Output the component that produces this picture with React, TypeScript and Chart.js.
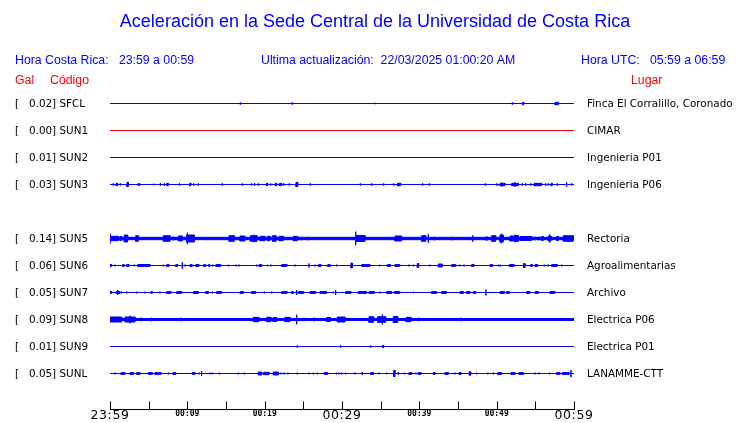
import { useEffect, useRef } from "react";
import { Chart, registerables } from "chart.js";

Chart.register(...registerables);

// ---------- texts ----------
const TITLE = "Aceleración en la Sede Central de la Universidad de Costa Rica";
const HORA_CR = "Hora Costa Rica:   23:59 a 00:59";
const UPDATED = "Ultima actualización:  22/03/2025 01:00:20 AM";
const HORA_UTC = "Hora UTC:   05:59 a 06:59";
const HEAD_GAL = "Gal";
const HEAD_CODE = "Código";
const HEAD_PLACE = "Lugar";

// ---------- stations (one empty slot between SUN3 and SUN5) ----------
const CODES = ["SFCL", "SUN1", "SUN2", "SUN3", "", "SUN5", "SUN6", "SUN7", "SUN8", "SUN9", "SUNL"];
const GAL = [0.02, 0.0, 0.01, 0.03, null, 0.14, 0.06, 0.05, 0.09, 0.01, 0.05];
const PLACES = [
  "Finca El Corralillo, Coronado",
  "CIMAR",
  "Ingenieria P01",
  "Ingenieria P06",
  "",
  "Rectoria",
  "Agroalimentarias",
  "Archivo",
  "Electrica P06",
  "Electrica P01",
  "LANAMME-CTT",
];
const TRACE_COLORS = ["#0000ff", "#ff0000", "#0000ff", "#0000ff", "", "#0000ff", "#0000ff", "#0000ff", "#0000ff", "#0000ff", "#0000ff"];
// continuous background noise half-width of each trace
const NOISE = [0, 0, 0, 0, 0, 1.2, 0, 0, 1.0, 0, 0];

// time axis: minutes after 23:59
const TIME_LABEL_MINUTES = [0, 10, 20, 30, 40, 50, 60];
const TIME_LABELS = ["23:59", "00:09", "00:19", "00:29", "00:39", "00:49", "00:59"];
const TIME_LABEL_BIG = [true, false, false, true, false, false, true];

// bursts: [start minute, end minute, half amplitude]
const SFCL: number[][] = [
  [16.85, 16.85, 1.2], [23.58, 23.58, 1.2], [34.31, 34.31, 0.7], [52.03, 52.03, 1.2],
  [53.36, 53.5, 1.2], [57.54, 57.97, 1.2],
];
const SUN1: number[][] = [];
const SUN2: number[][] = [];
const SUN3: number[][] = [
  [0.43, 0.43, 1.2], [0.78, 0.99, 1.2], [1.34, 1.34, 1.2], [2.2, 2.37, 2.2], [3.66, 3.66, 1.2],
  [3.84, 3.84, 1.2], [5.65, 5.65, 0.8], [6.51, 6.51, 1.2], [7.03, 7.03, 1.2], [7.33, 7.54, 1.2],
  [8.97, 8.97, 1.2], [10.3, 10.47, 1.2], [10.82, 10.82, 1.2], [11.42, 11.42, 1.2], [14.53, 14.53, 1.2],
  [17.11, 17.11, 1.2], [18.32, 18.32, 1.2], [18.71, 18.71, 1.2], [19.18, 19.18, 1.2], [20.22, 20.39, 1.2],
  [20.78, 20.78, 1.2], [21.38, 21.55, 1.2], [21.9, 22.2, 1.2], [22.46, 22.46, 1.2], [23.19, 23.19, 1.2],
  [24.05, 24.27, 2.2], [25.91, 25.91, 1.2], [32.37, 32.37, 1.2], [33.84, 33.84, 1.2], [35.39, 35.39, 1.2],
  [36.68, 36.68, 1.2], [37.16, 37.59, 1.2], [40.43, 40.43, 1.2], [41.29, 41.29, 1.2], [48.53, 48.53, 1.2],
  [50.04, 50.04, 1.2], [50.43, 51.08, 1.2], [50.65, 50.65, 2.0], [51.94, 52.8, 1.2], [52.37, 52.37, 2.2],
  [53.32, 53.32, 1.2], [53.75, 53.75, 1.2], [54.4, 54.4, 1.2], [54.83, 55.82, 1.2], [56.34, 56.34, 1.2],
  [56.68, 56.68, 1.2], [57.03, 57.2, 1.2], [57.84, 57.84, 1.2], [59.05, 59.05, 2.2], [59.7, 59.7, 1.2],
];
const SUN5: number[][] = [
  [0, 0.05, 4.8], [0.13, 1.08, 2.2], [1.29, 1.51, 2.0], [1.85, 2.28, 3.5], [3.32, 3.66, 2.8],
  [6.9, 7.76, 2.8], [8.19, 8.19, 2.0], [8.84, 9.35, 2.5], [9.91, 10.91, 3.5], [10.0, 10.0, 5.8],
  [15.39, 16.08, 2.8], [16.81, 17.44, 2.5], [18.15, 19.01, 2.8], [18.62, 18.62, 3.8], [19.4, 20.04, 2.2],
  [20.34, 20.69, 2.2], [21.03, 21.47, 2.8], [21.2, 21.2, 3.5], [21.85, 22.41, 2.2], [23.71, 24.27, 2.2],
  [24.78, 24.78, 1.8], [25.56, 25.56, 1.8], [29.83, 29.83, 1.5], [31.77, 31.77, 6.8], [31.77, 32.97, 3.0],
  [34.27, 34.27, 1.5], [36.85, 37.72, 2.5], [39.35, 39.35, 1.5], [40.3, 40.82, 2.8], [41.16, 41.16, 4.2],
  [41.94, 41.94, 1.8], [43.23, 43.23, 1.5], [44.18, 44.18, 1.8], [46.9, 46.9, 3.2], [48.71, 48.71, 2.5],
  [49.35, 49.87, 2.8], [50.43, 50.86, 3.5], [50.6, 50.6, 4.8], [51.72, 52.16, 2.5], [52.28, 52.8, 3.0],
  [52.4, 52.4, 3.8], [53.02, 54.53, 2.0], [54.96, 54.96, 1.8], [55.47, 55.47, 1.8], [55.82, 56.03, 2.0],
  [56.68, 57.03, 2.5], [56.85, 56.85, 4.0], [57.76, 57.97, 2.0], [58.62, 59.91, 2.8], [59.3, 59.3, 3.2],
];
const SUN6: number[][] = [
  [0, 0.22, 0.9], [0.65, 0.65, 0.9], [1.64, 1.85, 0.9], [2.16, 2.46, 0.9], [3.15, 3.15, 0.9],
  [3.58, 5.17, 1.0], [6.9, 6.9, 0.9], [7.33, 7.63, 0.9], [8.49, 8.75, 0.9], [9.35, 9.35, 3.2],
  [9.7, 9.7, 0.9], [10.34, 10.56, 0.9], [10.73, 10.73, 0.9], [11.08, 11.51, 0.9], [12.11, 12.37, 0.9],
  [12.72, 12.89, 0.9], [13.28, 13.28, 0.9], [13.71, 14.31, 1.0], [15.3, 15.3, 0.9], [16.29, 16.29, 0.9],
  [16.68, 16.68, 0.9], [18.97, 18.97, 0.9], [19.27, 19.61, 0.9], [20.39, 20.39, 0.9], [20.82, 20.82, 0.9],
  [22.2, 22.89, 0.9], [23.92, 23.92, 0.9], [25.73, 25.73, 2.0], [26.51, 26.51, 0.9], [26.94, 27.28, 0.9],
  [28.15, 28.49, 0.9], [29.31, 29.31, 0.9], [31.16, 31.34, 2.5], [32.54, 33.62, 0.9], [34.87, 34.87, 0.9],
  [35.86, 36.25, 0.9], [36.85, 37.46, 0.9], [38.66, 38.66, 0.9], [39.22, 39.22, 0.9], [39.74, 39.91, 2.0],
  [41.38, 41.38, 0.9], [42.46, 42.97, 1.5], [44.18, 44.7, 0.9], [45.26, 45.26, 0.9], [45.78, 45.78, 0.9],
  [46.77, 47.07, 0.9], [49.14, 49.48, 0.9], [50.22, 50.22, 0.9], [50.47, 50.47, 0.9], [51.64, 52.28, 0.9],
  [53.49, 53.66, 2.0], [54.4, 54.61, 0.9], [54.96, 55.3, 0.9], [56.16, 56.16, 0.9], [56.68, 56.68, 0.9],
  [57.11, 57.84, 0.9], [58.41, 58.41, 0.9],
];
const SUN7: number[][] = [
  [0, 0.22, 0.9], [0.78, 1.29, 0.9], [0.99, 0.99, 2.5], [1.51, 1.51, 0.9], [2.16, 2.16, 0.9],
  [3.45, 3.45, 0.9], [4.53, 4.53, 0.9], [5.3, 5.47, 0.9], [6.47, 6.47, 0.9], [7.33, 7.89, 0.9],
  [8.62, 9.27, 0.9], [10.78, 11.42, 0.9], [12.37, 12.72, 0.9], [13.23, 13.23, 0.9], [13.79, 14.44, 0.9],
  [16.81, 17.24, 0.9], [18.32, 18.84, 0.9], [19.96, 19.96, 0.9], [20.91, 20.91, 0.9], [22.2, 22.89, 0.9],
  [23.49, 23.71, 0.9], [24.14, 24.14, 2.5], [24.35, 25.04, 0.9], [25.86, 26.59, 0.9], [27.16, 28.02, 0.9],
  [28.88, 28.88, 0.9], [29.18, 29.18, 2.5], [30.47, 31.16, 0.9], [32.11, 33.19, 0.9], [33.49, 34.18, 0.9],
  [34.91, 34.91, 0.9], [35.78, 36.42, 0.9], [36.77, 37.46, 0.9], [39.22, 39.22, 0.9], [41.59, 42.24, 0.9],
  [42.89, 43.53, 0.9], [45.26, 45.69, 0.9], [46.12, 46.55, 0.9], [46.98, 47.28, 0.9], [48.62, 48.62, 3.0],
  [50.43, 50.99, 0.9], [51.29, 51.64, 0.9], [53.88, 54.31, 0.9], [54.96, 55.39, 0.9], [56.9, 57.54, 0.9],
];
const SUN8: number[][] = [
  [0, 1.51, 2.5], [1.94, 3.23, 2.5], [2.59, 2.59, 3.8], [4.01, 4.01, 1.8], [5.39, 5.39, 1.8],
  [9.14, 9.14, 1.8], [18.53, 19.27, 2.2], [20.22, 20.82, 2.2], [21.08, 21.55, 2.0], [22.63, 23.28, 2.2],
  [24.14, 24.14, 4.8], [25.09, 25.09, 1.8], [26.38, 26.38, 1.8], [28.02, 28.49, 2.0], [29.4, 30.39, 2.5],
  [33.49, 34.09, 2.8], [34.61, 35.65, 2.8], [35.22, 35.22, 5.0], [36.64, 37.2, 3.0], [38.28, 38.92, 2.2],
  [39.96, 39.96, 1.8], [40.86, 40.86, 1.5], [44.61, 44.61, 1.5], [45.34, 45.34, 1.8], [52.37, 52.37, 1.5],
];
const SUN9: number[][] = [
  [24.22, 24.22, 1.2], [29.83, 29.83, 1.2], [33.71, 33.71, 1.0], [35.26, 35.39, 1.2],
];
const SUNL: number[][] = [
  [0.65, 0.65, 0.9], [1.42, 1.94, 0.9], [2.59, 3.02, 0.9], [3.45, 3.88, 0.9], [4.96, 5.47, 0.9],
  [5.82, 6.59, 0.9], [7.54, 7.54, 0.9], [8.15, 8.49, 0.9], [10.65, 10.99, 0.9], [11.51, 11.51, 0.9],
  [11.85, 11.85, 2.5], [12.93, 12.93, 0.9], [13.23, 13.23, 0.9], [14.14, 14.14, 0.9], [16.59, 16.59, 0.9],
  [17.37, 17.37, 0.9], [19.18, 19.61, 1.5], [19.87, 20.56, 1.2], [21.12, 21.77, 1.5], [22.11, 22.11, 0.9],
  [22.5, 22.5, 0.9], [23.02, 23.02, 0.9], [24.22, 24.22, 0.9], [25.73, 25.73, 0.9], [26.29, 26.29, 0.9],
  [26.81, 26.81, 0.9], [27.72, 28.15, 0.9], [29.27, 29.27, 0.9], [29.61, 29.61, 0.9], [29.96, 29.96, 0.9],
  [30.47, 30.47, 0.9], [31.68, 31.68, 0.9], [32.63, 32.63, 1.5], [33.71, 34.09, 0.9], [34.78, 34.78, 0.9],
  [35.78, 35.78, 0.9], [36.68, 36.85, 3.0], [37.28, 37.28, 1.5], [38.06, 38.06, 0.9], [38.66, 39.01, 0.9],
  [39.57, 39.57, 0.9], [39.87, 40.22, 0.9], [41.81, 42.03, 0.9], [43.32, 43.75, 0.9], [44.61, 44.61, 0.9],
  [45.13, 45.39, 0.9], [46.42, 46.68, 0.9], [46.55, 46.55, 2.5], [47.41, 47.41, 0.9], [48.84, 48.84, 0.9],
  [49.57, 49.57, 0.9], [50.13, 50.65, 0.9], [51.85, 52.37, 0.9], [52.89, 53.45, 0.9], [54.96, 54.96, 0.9],
  [55.47, 55.47, 0.9], [56.85, 56.85, 0.9], [57.76, 58.19, 0.9], [58.49, 59.35, 0.9], [59.61, 59.61, 3.5],
];
const BURSTS: (number[][] | null)[] = [SFCL, SUN1, SUN2, SUN3, null, SUN5, SUN6, SUN7, SUN8, SUN9, SUNL];

const ROW_GAP = 27; // amplitude units between two traces
const T_MIN = 0;
const T_MAX = 60;

function envelope(row: number, base: number, bursts: number[][], sign: number) {
  const times = new Set<number>([T_MIN, T_MAX]);
  bursts.forEach(([t0, t1]) => {
    times.add(t0);
    times.add(t1);
  });
  const ts = Array.from(times).sort((a, b) => a - b);
  const amp = (pred: (t0: number, t1: number) => boolean) => {
    let m = base;
    for (const [t0, t1, a] of bursts) if (pred(t0, t1)) m = Math.max(m, a);
    return m;
  };
  const pts: { x: number; y: number }[] = [];
  for (const t of ts) {
    const l = amp((t0, t1) => t0 < t && t <= t1);
    const c = amp((t0, t1) => t0 <= t && t <= t1);
    const r = amp((t0, t1) => t0 <= t && t < t1);
    pts.push({ x: t, y: row + sign * l }, { x: t, y: row + sign * c }, { x: t, y: row + sign * r });
  }
  return pts;
}

const SANS = '"Liberation Sans", Arial, Helvetica, sans-serif';
const DEJAVU = '"DejaVu Sans", sans-serif';

const decorPlugin = {
  id: "sismoDecor",
  afterDraw(chart: any) {
    const { ctx, chartArea } = chart;
    const xs = chart.scales.x;
    const ys = chart.scales.y;
    ctx.save();
    ctx.textBaseline = "middle";

    // title
    ctx.fillStyle = "#0000ff";
    ctx.font = `18px ${SANS}`;
    ctx.textAlign = "center";
    ctx.fillText(TITLE, 375, 22);

    // header
    ctx.font = `12.3px ${SANS}`;
    ctx.textAlign = "left";
    ctx.fillText(HORA_CR, 15, 61);
    ctx.fillText(UPDATED, 261, 61);
    ctx.fillText(HORA_UTC, 581, 61);
    ctx.fillStyle = "#ff0000";
    ctx.fillText(HEAD_GAL, 15, 81);
    ctx.fillText(HEAD_CODE, 50, 81);
    ctx.fillText(HEAD_PLACE, 631, 81);

    // row labels
    ctx.fillStyle = "#000000";
    ctx.font = `10.4px ${DEJAVU}`;
    CODES.forEach((code, i) => {
      if (!code) return;
      const y = ys.getPixelForValue(i * ROW_GAP) + 0.5;
      const g = (GAL[i] as number).toFixed(2);
      ctx.textAlign = "left";
      ctx.fillText(`[   ${g}] ${code}`, 15, y);
      ctx.fillText(PLACES[i], chartArea.right + 13, y);
    });

    // time axis
    const yb = Math.round(chartArea.bottom) + 0.5;
    ctx.strokeStyle = "#000000";
    ctx.lineWidth = 1;
    ctx.beginPath();
    ctx.moveTo(xs.left, yb);
    ctx.lineTo(xs.right + 1, yb);
    xs.ticks.forEach((tk: any) => {
      const px = Math.round(xs.getPixelForValue(tk.value)) + 0.5;
      ctx.moveTo(px, yb);
      ctx.lineTo(px, yb - 8);
    });
    ctx.stroke();

    ctx.textAlign = "center";
    ctx.fillStyle = "#000000";
    TIME_LABEL_MINUTES.forEach((m, i) => {
      const px = xs.getPixelForValue(m);
      if (TIME_LABEL_BIG[i]) {
        ctx.font = `12.5px ${DEJAVU}`;
        (ctx as any).letterSpacing = "0.6px";
        ctx.fillText(TIME_LABELS[i], px, 416);
      } else {
        ctx.font = `bold 8px "DejaVu Sans Mono", monospace`;
        (ctx as any).letterSpacing = "0px";
        ctx.fillText(TIME_LABELS[i], px, 414);
      }
    });
    (ctx as any).letterSpacing = "0px";
    ctx.restore();
  },
};

export default function App() {
  const ref = useRef<HTMLCanvasElement | null>(null);

  useEffect(() => {
    if (!ref.current) return;
    const datasets: any[] = [];
    BURSTS.forEach((bursts, i) => {
      if (!bursts) return;
      const row = i * ROW_GAP;
      const color = TRACE_COLORS[i];
      datasets.push({
        data: envelope(row, NOISE[i], bursts, -1),
        borderColor: color,
        backgroundColor: color,
        borderWidth: 1,
        pointRadius: 0,
        tension: 0,
        fill: "+1",
      });
      datasets.push({
        data: envelope(row, NOISE[i], bursts, 1),
        borderColor: color,
        backgroundColor: color,
        borderWidth: 1,
        pointRadius: 0,
        tension: 0,
        fill: false,
      });
    });

    const chart = new Chart(ref.current, {
      type: "line",
      data: { datasets },
      options: {
        animation: false,
        responsive: false,
        devicePixelRatio: 1,
        events: [],
        layout: { padding: { left: 110, right: 166, top: 76, bottom: 14 } },
        plugins: { legend: { display: false }, tooltip: { enabled: false } },
        scales: {
          x: { type: "linear", min: T_MIN, max: T_MAX, ticks: { stepSize: 5 }, display: false },
          y: { type: "linear", min: -27.5, max: 305.5, reverse: true, display: false },
        },
      },
      plugins: [decorPlugin],
    });
    return () => chart.destroy();
  }, []);

  return (
    <div style={{ position: "absolute", left: 0, top: 0, width: 740, height: 423, background: "#ffffff" }}>
      <canvas ref={ref} width={740} height={423} style={{ width: 740, height: 423 }} />
    </div>
  );
}
